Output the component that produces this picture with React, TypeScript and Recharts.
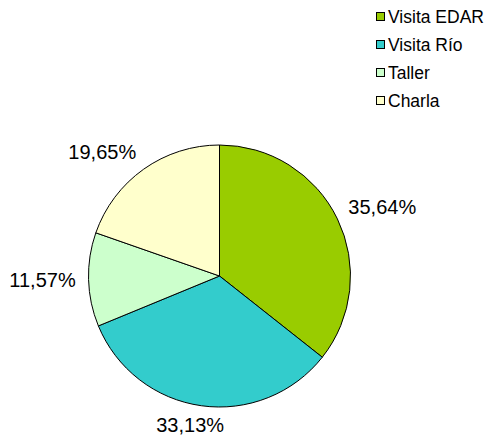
import React from 'react';
import { PieChart, Pie, Cell, Legend } from 'recharts';

const categories = ['Visita EDAR', 'Visita Río', 'Taller', 'Charla'];
const shares = [35.64, 33.13, 11.57, 19.65];
const colors = ['#99CC00', '#33CCCC', '#CCFFCC', '#FFFFCC'];

const data = categories.map((name, i) => ({ name, value: shares[i] }));

const FONT = "Arial, 'Liberation Sans', sans-serif";
const RADIAN = Math.PI / 180;

// label box placed just outside the rim, shifted by its half size along the slice direction
const renderLabel = (props: any) => {
  const { cx, cy, midAngle, outerRadius, value } = props;
  const ux = Math.cos(-midAngle * RADIAN);
  const uy = Math.sin(-midAngle * RADIAN);
  const r = outerRadius + 11;
  const clamp = (v: number) => Math.max(-1, Math.min(1, v));
  const x = cx + r * ux + 35 * clamp(ux * 2);
  const y = cy + r * uy + 8 * clamp(uy * 2);
  return (
    <text
      x={x}
      y={y}
      fill="#000"
      fontSize={20}
      fontFamily={FONT}
      textAnchor="middle"
      dominantBaseline="central"
    >
      {value.toFixed(2).replace('.', ',')}%
    </text>
  );
};

const renderLegend = () => (
  <svg width={120} height={112}>
    {categories.map((name, i) => (
      <g key={name}>
        <rect x={1.5} y={12.5 + i * 28} width={8} height={8} fill={colors[i]} stroke="#000" strokeWidth={1} />
        <text x={13} y={16.5 + i * 28} fontSize={17.5} fontFamily={FONT} fill="#000" dominantBaseline="central">
          {name}
        </text>
      </g>
    ))}
  </svg>
);

export default function App() {
  return (
    <div style={{ position: 'absolute', left: 0, top: 0, background: '#fff' }}>
      <PieChart width={496} height={441} margin={{ top: 0, right: 0, bottom: 0, left: 0 }}>
        <Pie
          data={data}
          dataKey="value"
          nameKey="name"
          cx={219.5}
          cy={276}
          outerRadius={131}
          startAngle={90}
          endAngle={-270}
          stroke="#000"
          strokeWidth={1}
          label={renderLabel}
          labelLine={false}
          isAnimationActive={false}
        >
          {data.map((d, i) => (
            <Cell key={d.name} fill={colors[i]} />
          ))}
        </Pie>
        <Legend
          content={renderLegend}
          wrapperStyle={{ position: 'absolute', left: 375, top: 0, width: 120 }}
        />
      </PieChart>
    </div>
  );
}
